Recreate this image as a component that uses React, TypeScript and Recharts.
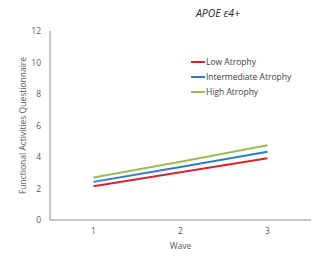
import { LineChart, Line, XAxis, YAxis } from 'recharts';

const waves = ['1', '2', '3'];
const lowAtrophy = [2.14, 3.03, 3.92];
const intermediateAtrophy = [2.42, 3.36, 4.33];
const highAtrophy = [2.7, 3.7, 4.75];
const yTicks = [0, 2, 4, 6, 8, 10, 12];

const SERIES = [
  { key: 'low', name: 'Low Atrophy', color: '#d3272c' },
  { key: 'mid', name: 'Intermediate Atrophy', color: '#2d7dc8' },
  { key: 'high', name: 'High Atrophy', color: '#9bbb59' },
];

const data = waves.map((w, i) => ({
  wave: w,
  low: lowAtrophy[i],
  mid: intermediateAtrophy[i],
  high: highAtrophy[i],
}));

const FONT = '"Open Sans", "Noto Sans", sans-serif';
const TICK = { fontSize: 8.5, fill: '#595959', fontFamily: FONT };

function LegendBox() {
  return (
    <div style={{ position: 'absolute', left: 191, top: 54, fontFamily: FONT, fontSize: 8.5, color: '#404040' }}>
      {SERIES.map(s => (
        <div key={s.key} style={{ display: 'flex', alignItems: 'center', height: 15 }}>
          <span style={{ width: 14, height: 2, background: s.color, display: 'inline-block', marginRight: 1 }} />
          <span>{s.name}</span>
        </div>
      ))}
    </div>
  );
}

export default function App() {
  return (
    <div style={{ position: 'absolute', left: 0, top: 0, width: 312, height: 256, background: '#fff' }}>
      <LineChart width={312} height={256} data={data}
        margin={{ top: 31, right: 1, bottom: 0, left: 0 }}>
        <XAxis dataKey="wave" scale="band" height={36} tickLine={false} tickSize={0} tickMargin={8}
          stroke="#8c8c8c" tick={TICK}
          label={{ value: 'Wave', position: 'center', dy: 8, fontSize: 8.5, fill: '#595959', fontFamily: FONT }} />
        <YAxis width={50} domain={[0, 12]} ticks={yTicks} tickLine={false} tickSize={0} tickMargin={9}
          stroke="#8c8c8c" tick={TICK}
          label={{ value: 'Functional Activities Questionnaire', angle: -90, position: 'center', dx: -2, fontSize: 8.5, fill: '#595959', fontFamily: FONT }} />
        {SERIES.map(s => (
          <Line key={s.key} dataKey={s.key} name={s.name} stroke={s.color} strokeWidth={2}
            dot={false} activeDot={false} isAnimationActive={false} type="linear" />
        ))}
      </LineChart>
      <div style={{
        position: 'absolute', left: 0, width: 436, top: 6, textAlign: 'center',
        fontFamily: FONT, fontSize: 10.5, fontStyle: 'italic', color: '#262626',
      }}>
        APOE ε4+
      </div>
      <LegendBox />
    </div>
  );
}
